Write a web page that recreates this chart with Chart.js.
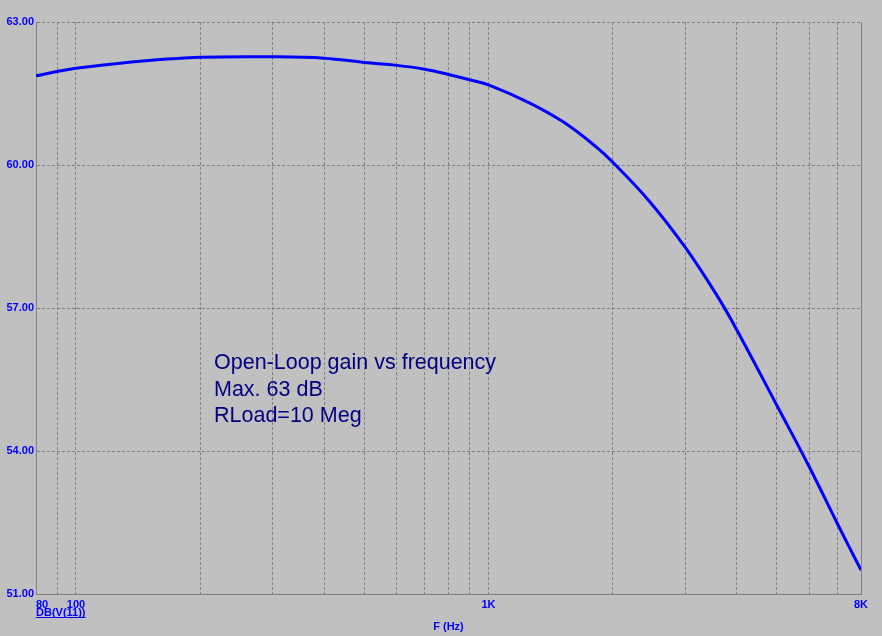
<!DOCTYPE html>
<html>
<head>
<meta charset="utf-8">
<script src="https://cdn.jsdelivr.net/npm/chart.js@4/dist/chart.umd.min.js"></script>
<style>
  html, body { margin: 0; padding: 0; background: #c0c0c0; }
  #wrap { width: 882px; height: 636px; position: relative; }
</style>
</head>
<body>
<div id="wrap"><canvas id="chart"></canvas></div>
<script>
// frequency (Hz) and open-loop gain (dB)
const freqs = [80, 90, 100, 150, 200, 300, 400, 500, 600, 700, 800, 900, 1000, 1260, 1520, 1830, 2000, 2460, 3000, 3570, 4000, 5000, 6000, 7000, 8000];
const gainDb = [61.87, 61.96, 62.03, 62.19, 62.26, 62.27, 62.24, 62.15, 62.09, 62.01, 61.90, 61.79, 61.68, 61.30, 60.90, 60.37, 60.06, 59.23, 58.27, 57.28, 56.54, 54.96, 53.66, 52.49, 51.50];

const xGrid = [80, 90, 100, 200, 300, 400, 500, 600, 700, 800, 900, 1000, 2000, 3000, 4000, 5000, 6000, 7000, 8000];
const xLabels = {80: '    80', 100: '100', 1000: '1K', 8000: '8K'};
const noteLines = ['Open-Loop gain vs frequency', 'Max. 63 dB', 'RLoad=10 Meg'];
const traceName = 'DB(V(11))';

const blue = '#0000ff';
const gridCol = '#808080';
const fam = 'Arial, "Liberation Sans", sans-serif';

const extras = {
  id: 'extras',
  afterDraw(chart) {
    const {ctx, chartArea: a} = chart;
    ctx.save();
    // right border
    ctx.strokeStyle = gridCol;
    ctx.lineWidth = 1;
    ctx.beginPath();
    ctx.moveTo(a.right + 0.5, a.top);
    ctx.lineTo(a.right + 0.5, a.bottom);
    ctx.stroke();
    // note text
    ctx.fillStyle = '#000080';
    ctx.font = '21.5px ' + fam;
    ctx.textBaseline = 'alphabetic';
    noteLines.forEach((t, i) => ctx.fillText(t, a.left + 178, a.top + 347 + i * 26.5));
    // trace name, underlined
    ctx.fillStyle = blue;
    ctx.font = 'bold 11px ' + fam;
    const w = ctx.measureText(traceName).width;
    ctx.fillText(traceName, a.left, a.bottom + 22);
    ctx.fillRect(a.left, a.bottom + 23, w, 1);
    ctx.restore();
  }
};

new Chart(document.getElementById('chart'), {
  type: 'line',
  data: {
    labels: freqs,
    datasets: [{
      label: traceName,
      data: freqs.map((f, i) => ({x: f, y: gainDb[i]})),
      borderColor: blue,
      borderWidth: 3,
      pointRadius: 0,
      tension: 0.4,
      fill: false
    }]
  },
  options: {
    responsive: true,
    maintainAspectRatio: false,
    animation: false,
    layout: { padding: { top: 22, right: 21, left: 0, bottom: 0 } },
    plugins: { legend: { display: false }, tooltip: { enabled: false } },
    scales: {
      x: {
        type: 'logarithmic',
        min: 80,
        max: 8000,
        afterBuildTicks: s => { s.ticks = xGrid.map(v => ({value: v})); },
        afterFit: s => { s.height = 42; },
        grid: { color: gridCol, drawTicks: false, lineWidth: 1 },
        border: { color: gridCol, dash: [3, 2] },
        ticks: {
          autoSkip: false, maxRotation: 0, padding: 4,
          color: blue,
          font: { family: fam, size: 11, weight: 'bold' },
          callback: v => xLabels[v] || ''
        },
        title: {
          display: true, text: 'F (Hz)', color: blue,
          font: { family: fam, size: 11, weight: 'bold' },
          padding: { top: 0, bottom: 2 }
        }
      },
      y: {
        min: 51,
        max: 63,
        afterFit: s => { s.width = 36; },
        grid: { color: gridCol, drawTicks: false, lineWidth: 1 },
        border: { color: gridCol, dash: [3, 2] },
        ticks: {
          stepSize: 3, padding: 2, color: blue,
          font: { family: fam, size: 11, weight: 'bold' },
          callback: v => Number(v).toFixed(2)
        }
      }
    }
  },
  plugins: [extras]
});
</script>
</body>
</html>
